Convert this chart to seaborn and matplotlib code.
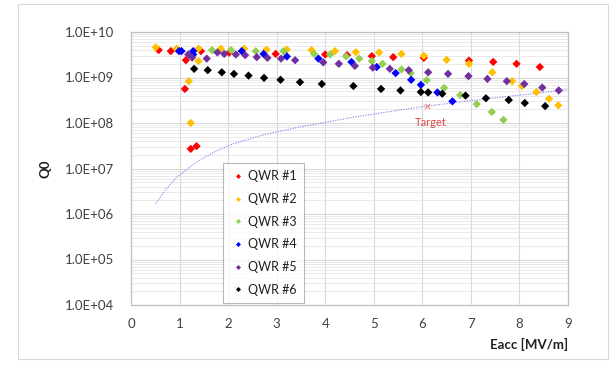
import numpy as np
import pandas as pd
import matplotlib
matplotlib.use("Agg")
import matplotlib.pyplot as plt
import seaborn as sns
from matplotlib.ticker import LogLocator, FuncFormatter, MultipleLocator, NullFormatter
from matplotlib.patches import Rectangle

# ---------------- data ----------------
qwr1_x = [0.57, 0.82, 1.11, 1.13, 1.23, 1.35, 1.44, 2.02, 2.98, 4.00, 4.45, 4.96, 5.40, 6.03, 6.96, 7.46, 7.94, 8.42]
qwr1_q = [4.0e9, 3.8e9, 5.6e8, 2.4e9, 2.7e7, 3.1e7, 3.8e9, 3.5e9, 3.3e9, 3.2e9, 3.1e9, 2.95e9, 2.8e9, 2.7e9, 2.35e9, 2.2e9, 2.0e9, 1.7e9]

qwr2_x = [0.51, 0.94, 1.19, 1.23, 1.39, 1.39, 1.85, 2.33, 2.79, 3.21, 3.72, 4.20, 4.63, 5.11, 5.57, 6.03, 6.50, 6.96, 7.44, 7.85, 8.05, 8.35, 8.61, 8.80]
qwr2_q = [4.6e9, 4.3e9, 8.3e8, 1.0e8, 4.3e9, 2.3e9, 4.3e9, 4.3e9, 4.1e9, 4.1e9, 4.0e9, 3.8e9, 3.6e9, 3.55e9, 3.3e9, 3.0e9, 2.45e9, 2.0e9, 1.3e9, 8.3e8, 6.5e8, 4.8e8, 3.4e8, 2.45e8]

qwr3_x = [1.67, 2.06, 2.57, 3.14, 3.77, 4.10, 4.43, 4.70, 4.96, 5.18, 5.57, 5.76, 6.09, 6.45, 6.78, 7.12, 7.43, 7.67]
qwr3_q = [4.0e9, 4.0e9, 3.8e9, 3.8e9, 3.3e9, 3.2e9, 2.9e9, 2.6e9, 2.3e9, 2.0e9, 1.5e9, 1.25e9, 8.7e8, 5.9e8, 4.1e8, 2.6e8, 1.75e8, 1.17e8]

qwr4_x = [0.99, 1.04, 1.28, 1.28, 2.28, 2.73, 3.21, 3.86, 4.54, 5.06, 5.45, 5.77, 5.97, 6.31, 6.62]
qwr4_q = [3.8e9, 3.8e9, 3.8e9, 3.2e9, 3.8e9, 3.3e9, 2.9e9, 2.6e9, 2.2e9, 1.7e9, 1.25e9, 8.9e8, 6.9e8, 4.7e8, 3.0e8]

qwr5_x = [1.18, 1.26, 1.56, 1.78, 1.92, 2.16, 2.35, 2.59, 2.81, 3.09, 3.38, 3.96, 4.28, 4.61, 4.98, 5.33, 5.72, 6.12, 6.53, 6.95, 7.34, 7.74, 8.10, 8.47, 8.81]
qwr5_q = [3.2e9, 2.75e9, 2.6e9, 3.55e9, 3.3e9, 3.2e9, 3.1e9, 2.8e9, 2.7e9, 2.6e9, 2.4e9, 2.15e9, 2.0e9, 1.8e9, 1.65e9, 1.55e9, 1.45e9, 1.3e9, 1.2e9, 1.07e9, 9.3e8, 8.3e8, 7.2e8, 6.0e8, 5.2e8]

qwr6_x = [1.30, 1.58, 1.87, 2.12, 2.42, 2.74, 3.08, 3.48, 3.93, 4.58, 5.15, 5.55, 5.97, 6.12, 6.41, 6.89, 7.31, 7.78, 8.11, 8.53]
qwr6_q = [1.55e9, 1.45e9, 1.3e9, 1.2e9, 1.1e9, 9.8e8, 8.9e8, 7.9e8, 7.2e8, 6.5e8, 5.6e8, 5.2e8, 4.8e8, 4.7e8, 4.4e8, 4.0e8, 3.5e8, 3.2e8, 2.75e8, 2.35e8]

series_names = ["QWR #1", "QWR #2", "QWR #3", "QWR #4", "QWR #5", "QWR #6"]
series_colors = ["#ff0000", "#ffc000", "#92d050", "#0000ff", "#7030a0", "#000000"]

curve_x = [0.51, 0.73, 0.94, 1.2, 1.42, 1.75, 2.11, 2.7, 3.38, 4.51, 5.2, 6.02, 7.0, 8.0, 9.0]
curve_q = [1.7e6, 3.6e6, 6.4e6, 1.05e7, 1.55e7, 2.4e7, 3.5e7, 5.4e7, 7.8e7, 1.3e8, 1.7e8, 2.3e8, 3.1e8, 4.1e8, 5.4e8]

target_x = [6.09]
target_q = [2.4e8]

x_ticks = [0, 1, 2, 3, 4, 5, 6, 7, 8, 9]

# ---------------- build frame ----------------
frames = []
for name, xs, qs in zip(series_names,
                        [qwr1_x, qwr2_x, qwr3_x, qwr4_x, qwr5_x, qwr6_x],
                        [qwr1_q, qwr2_q, qwr3_q, qwr4_q, qwr5_q, qwr6_q]):
    frames.append(pd.DataFrame({"Eacc": xs, "Q0": qs, "cavity": name}))
df = pd.concat(frames, ignore_index=True)
curve_df = pd.DataFrame({"Eacc": curve_x, "Q0": curve_q})

sns.set_style("white")
plt.rcParams["font.family"] = ["Lato", "DejaVu Sans"]

fig = plt.figure(figsize=(6.16, 3.68), dpi=100)
ax = fig.add_axes([131/616, 63/368, 437/616, 273/368])

# figure frame
fig.patches.append(Rectangle((17.5/616, 9/368), (608-17.5)/616, (364-9)/368,
                             transform=fig.transFigure, fill=False,
                             edgecolor="#d9d9d9", linewidth=0.8, zorder=0))

ax.set_yscale("log")
ax.set_xlim(0, 9)
ax.set_ylim(1e4, 1e10)

# grid
ax.xaxis.set_major_locator(MultipleLocator(1))
ax.yaxis.set_major_locator(LogLocator(base=10, numticks=20))
ax.yaxis.set_minor_locator(LogLocator(base=10, subs=np.arange(2, 10), numticks=100))
ax.yaxis.set_minor_formatter(NullFormatter())
ax.grid(True, which="major", axis="both", color="#d9d9d9", linewidth=0.8)
ax.grid(True, which="minor", axis="y", color="#e6e6e6", linewidth=0.6)
ax.set_axisbelow(True)

# target curve
sns.lineplot(data=curve_df, x="Eacc", y="Q0", ax=ax, color="#7b7bf0",
             linestyle=(0, (1, 1.3)), linewidth=0.8, legend=False, zorder=2)

# data
sns.scatterplot(data=df, x="Eacc", y="Q0", hue="cavity", hue_order=series_names,
                palette=series_colors, marker="D", s=18, linewidth=0, ax=ax, zorder=3)

# target marker
ax.scatter(target_x, target_q, marker="x", color="#f08080", s=14, linewidths=0.8, zorder=4)
ax.annotate("Target", (target_x[0], target_q[0]), xytext=(3, -12), textcoords="offset points",
            ha="center", va="center", color="#e04848", fontsize=8)

# ticks
ax.set_xticks(x_ticks)
ax.yaxis.set_major_formatter(FuncFormatter(lambda v, p: f"{v:.1E}"))
ax.tick_params(axis="both", which="both", length=0, labelcolor="#404040", labelsize=9.5)
ax.tick_params(axis="y", pad=12)
ax.tick_params(axis="x", pad=9)

for sp in ax.spines.values():
    sp.set_color("#bfbfbf")
    sp.set_linewidth(0.9)

ax.set_xlabel("Eacc [MV/m]", fontsize=9.5, fontweight="bold", color="#202020", loc="right", labelpad=6)
ax.set_ylabel("Q0", fontsize=9.5, fontweight="bold", color="#202020", labelpad=10)

# legend
handles, labels = ax.get_legend_handles_labels()
leg = ax.legend(handles, labels, loc="upper left", bbox_to_anchor=((223-131)/437, (305-163)/273),
                frameon=True, fancybox=False, edgecolor="#a6a6a6", fontsize=9,
                labelspacing=0.85, handletextpad=0.2, handlelength=1.2, borderpad=0.6,
                markerscale=0.6, borderaxespad=0)
leg.get_frame().set_linewidth(0.8)
for t in leg.get_texts():
    t.set_color("#202020")

fig.savefig("out.png", dpi=100)
